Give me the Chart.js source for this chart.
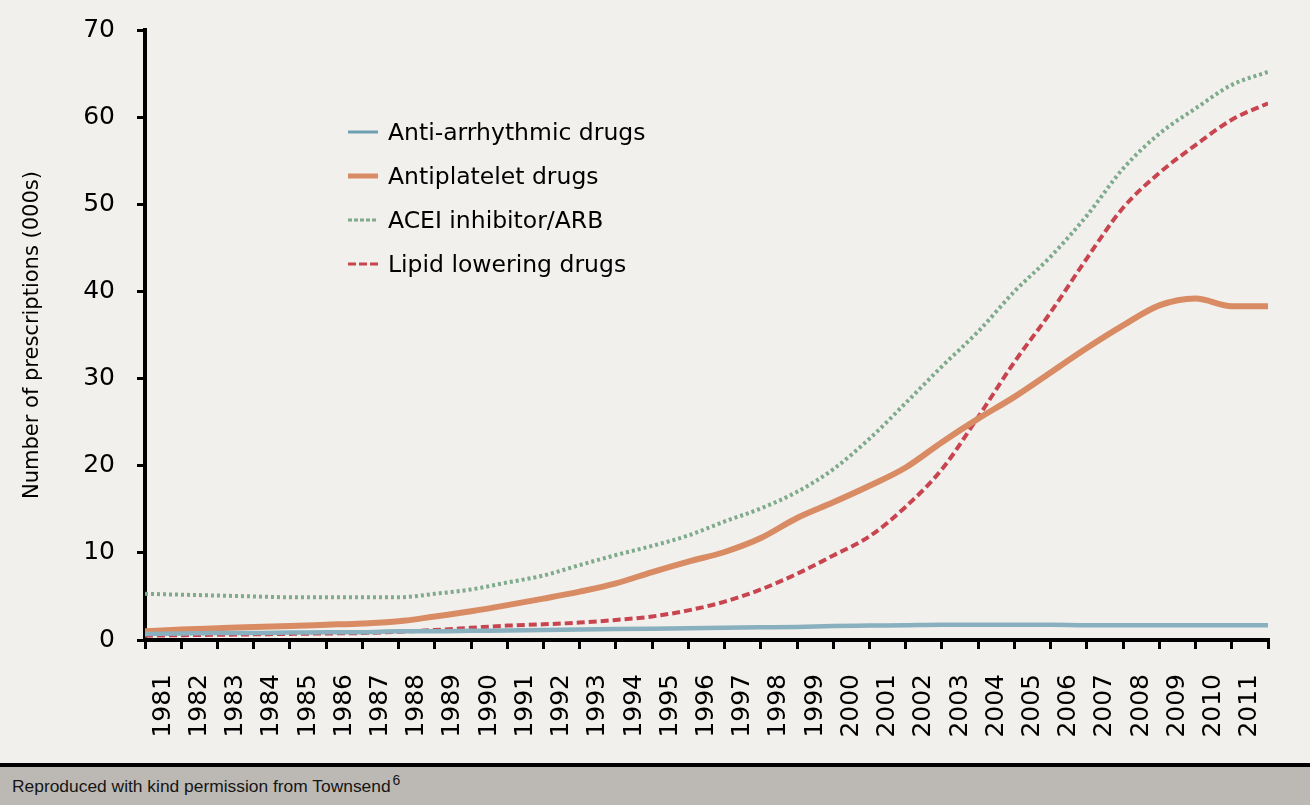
<!DOCTYPE html>
<html><head><meta charset="utf-8">
<script src="https://cdn.jsdelivr.net/npm/chart.js@4"></script>
<style>
html,body{margin:0;padding:0;background:#f1f0ed;}
#wrap{position:absolute;left:0;top:0;width:1310px;height:763px;}
#footer{position:absolute;left:0;top:763px;width:1310px;height:42px;box-sizing:border-box;border-top:4px solid #000;background:#bcb9b4;font-family:"Liberation Sans",Arial,sans-serif;font-size:17.4px;color:#151515;line-height:38px;padding-left:12px;}
#footer sup{font-size:14px;vertical-align:baseline;position:relative;top:-7px;margin-left:2px;}
</style></head><body>
<div id="wrap"><canvas id="c" width="1310" height="763"></canvas></div>
<div id="footer">Reproduced with kind permission from Townsend<sup>6</sup></div>
<script>
// Category (tick) labels
const years = [1981,1982,1983,1984,1985,1986,1987,1988,1989,1990,1991,1992,1993,1994,1995,1996,1997,1998,1999,2000,2001,2002,2003,2004,2005,2006,2007,2008,2009,2010,2011];
// Time points of the series (start of each year, through end of 2011)
const timePoints = [1981,1982,1983,1984,1985,1986,1987,1988,1989,1990,1991,1992,1993,1994,1995,1996,1997,1998,1999,2000,2001,2002,2003,2004,2005,2006,2007,2008,2009,2010,2011,2012];
// Series values (thousands of prescriptions)
const antiArrhythmic = [0.7,0.75,0.8,0.8,0.85,0.9,0.9,1.0,1.0,1.05,1.1,1.15,1.2,1.25,1.3,1.35,1.4,1.45,1.5,1.6,1.65,1.7,1.75,1.75,1.75,1.75,1.7,1.7,1.7,1.7,1.7,1.7];
const antiplatelet = [1.0,1.2,1.35,1.5,1.6,1.75,1.9,2.15,2.7,3.3,4.0,4.75,5.55,6.5,7.8,9.0,10.1,11.7,14.0,15.8,17.7,19.8,22.7,25.4,27.9,30.7,33.5,36.1,38.4,39.2,38.3,38.3];
const aceiArb = [5.3,5.2,5.1,5.0,4.9,4.9,4.9,4.9,5.3,5.8,6.6,7.4,8.6,9.75,10.8,12.0,13.6,15.1,17.0,19.6,23.1,27.2,31.4,35.4,40.0,44.0,48.7,54.1,58.1,61.0,63.7,65.2];
const lipidLowering = [0.5,0.55,0.6,0.65,0.7,0.75,0.8,0.95,1.15,1.4,1.65,1.8,2.0,2.3,2.7,3.4,4.4,5.8,7.6,9.7,11.9,15.3,19.6,25.6,31.9,37.6,43.8,49.6,53.6,56.8,59.7,61.6];
const seriesLabels = ['Anti-arrhythmic drugs','Antiplatelet drugs','ACEI inhibitor/ARB','Lipid lowering drugs'];
const yMin = 0, yMax = 70, yStep = 10;

const toPts = vals => vals.map((v,i)=>({x:timePoints[i], y:v}));

const inlineLegend = {
  id:'inlineLegend',
  afterDatasetsDraw(chart, args, o){
    const ctx = chart.ctx;
    chart.data.datasets.forEach((ds,i)=>{
      const y = o.top + i*o.rowGap;
      ctx.save();
      ctx.strokeStyle = ds.legendColor || ds.borderColor;
      ctx.lineWidth = ds.legendWidth || ds.borderWidth;
      ctx.setLineDash(ds.legendDash || []);
      ctx.beginPath(); ctx.moveTo(o.left, y); ctx.lineTo(o.left + o.sample, y); ctx.stroke();
      ctx.setLineDash([]);
      ctx.fillStyle = '#000';
      ctx.font = o.font;
      ctx.textBaseline = 'middle';
      ctx.fillText(ds.label, o.left + o.sample + o.gap, y + 2);
      ctx.restore();
    });
  }
};

const tickFont = {family:'DejaVu Sans', size:25};

new Chart(document.getElementById('c'), {
  type:'line',
  data:{
    datasets:[
      {label:seriesLabels[0], data:toPts(antiArrhythmic), borderColor:'#88b0be', legendColor:'#6fa0b1', borderWidth:4.5, legendWidth:3},
      {label:seriesLabels[1], data:toPts(antiplatelet), borderColor:'#d98b63', borderWidth:6, legendWidth:5},
      {label:seriesLabels[2], data:toPts(aceiArb), borderColor:'#7faa8c', borderWidth:4, borderDash:[3,3], legendWidth:3, legendDash:[4,2]},
      {label:seriesLabels[3], data:toPts(lipidLowering), borderColor:'#c8454f', borderWidth:4, borderDash:[8,4], legendWidth:3, legendDash:[8,3]}
    ]
  },
  options:{
    responsive:false,
    animation:false,
    layout:{padding:{left:0,right:42,top:30,bottom:0}},
    elements:{point:{radius:0}, line:{cubicInterpolationMode:'monotone', borderCapStyle:'butt'}},
    plugins:{
      legend:{display:false},
      tooltip:{enabled:false},
      inlineLegend:{left:348, top:132, rowGap:44, sample:30, gap:10, font:'23.5px "DejaVu Sans"'}
    },
    scales:{
      x:{type:'linear', position:'bottom', weight:0, min:timePoints[0], max:timePoints[timePoints.length-1],
         ticks:{stepSize:1, display:false, maxTicksLimit:100},
         grid:{drawOnChartArea:false, drawTicks:true, tickLength:9, color:'#000', lineWidth:3},
         border:{display:true, color:'#000', width:4},
         afterFit:s=>{s.height=10;}},
      xl:{type:'category', position:'bottom', weight:1, labels:years.map(String), offset:true,
          grid:{display:false}, border:{display:false},
          ticks:{autoSkip:false, minRotation:90, maxRotation:90, padding:16, color:'#000', font:tickFont},
          afterFit:s=>{s.height=113;}},
      y:{min:yMin, max:yMax,
         ticks:{stepSize:yStep, padding:22, color:'#000', font:tickFont},
         grid:{drawOnChartArea:false, drawTicks:true, tickLength:8, color:'#000', lineWidth:3},
         border:{display:true, color:'#000', width:4},
         title:{display:true, text:'Number of prescriptions (000s)', color:'#000', font:{family:'DejaVu Sans', size:21}, padding:{top:20, bottom:0}},
         afterFit:s=>{s.width=145; s.paddingTop=0; s.paddingBottom=0;}}
    }
  },
  plugins:[inlineLegend]
});
</script>
</body></html>
